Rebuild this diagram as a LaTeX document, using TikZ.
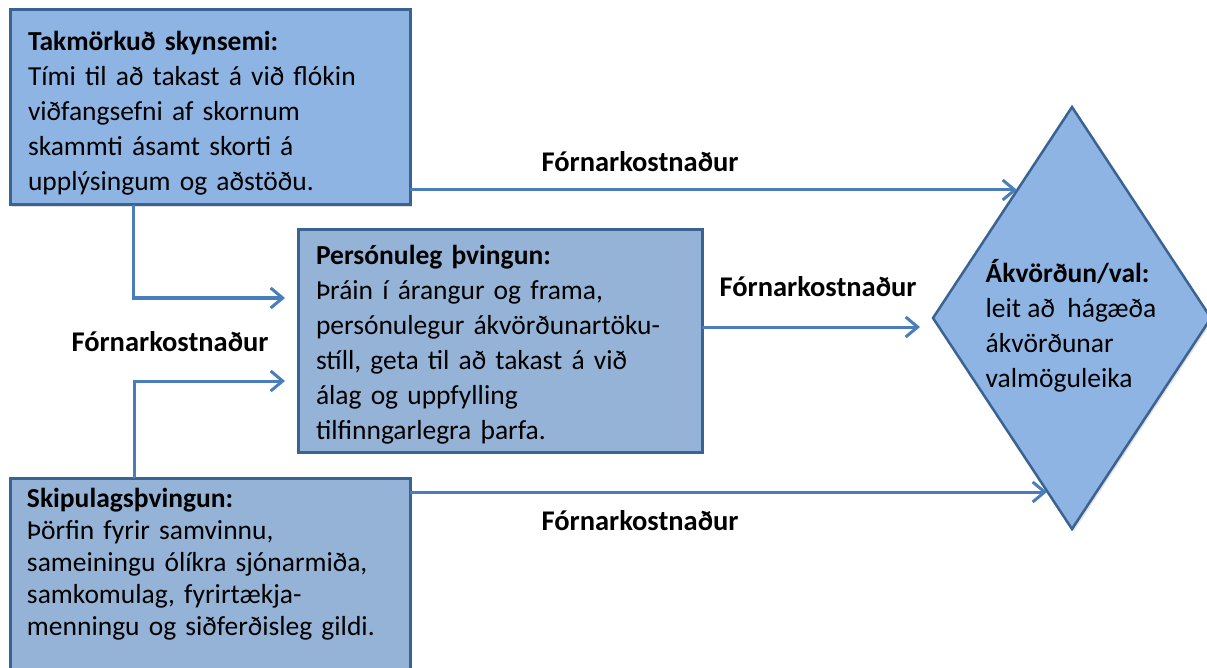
\documentclass[tikz,border=0pt]{standalone}
\usepackage{fontspec}
\setmainfont{Carlito}
\usetikzlibrary{shapes.geometric,arrows.meta,shadows}

\definecolor{boxfill}{HTML}{8EB4E3}
\definecolor{boxfillb}{HTML}{95B3D7}
\definecolor{boxline}{HTML}{3B6392}
\definecolor{flowline}{HTML}{4A7EBB}

\begin{document}
\begin{tikzpicture}[x=1pt,y=-1pt,>={Straight Barb[length=12pt,width=20pt]},
  box/.style={draw=boxline,line width=3pt,fill=#1,anchor=north west,align=left,
    inner xsep=18pt,inner ysep=0pt,outer sep=0pt,
    font=\fontsize{27.5}{35}\selectfont,
    drop shadow={opacity=0.25,shadow xshift=2pt,shadow yshift=-2pt}},
  flow/.style={draw=flowline,line width=3pt,->},
  lbl/.style={font=\bfseries\fontsize{28.5}{32}\selectfont,inner sep=0pt}]

  \useasboundingbox (0,0) rectangle (1207,668);
  \clip (0,0) rectangle (1207,668);

  % the three constraints
  \node[box=boxfill,text width=364pt,text height=30pt,minimum height=195pt] (bounded) at (10,10)
    {\textbf{Takmörkuð skynsemi:}\\Tími til að takast á við flókin\\viðfangsefni af skornum\\skammti ásamt skorti á\\upplýsingum og aðstöðu.};
  \node[box=boxfillb,text width=368pt,text height=27pt,minimum height=222pt] (personal) at (298,230)
    {\textbf{Persónuleg þvingun:}\\Þráin í árangur og frama,\\persónulegur ákvörðunartöku-\\stíll, geta til að takast á við\\álag og uppfylling\\tilfinngarlegra þarfa.};
  \node[box=boxfillb,text width=366pt,inner xsep=17pt,inner ysep=10pt,text depth=180pt,
    font=\fontsize{27.5}{32}\selectfont] (organis) at (10,478)
    {\textbf{Skipulagsþvingun:}\\Þörfin fyrir samvinnu,\\sameiningu ólíkra sjónarmiða,\\samkomulag, fyrirtækja-\\menningu og siðferðisleg gildi.};

  % the decision
  \node[diamond,draw=boxline,line width=2.5pt,fill=boxfill,outer sep=0pt,inner sep=0pt,
    minimum width=278pt,minimum height=422pt,
    drop shadow={opacity=0.25,shadow xshift=2pt,shadow yshift=-2pt}] (decision) at (1072,318) {};
  \node[align=left,inner sep=0pt,font=\fontsize{27.5}{35}\selectfont] (decisiontxt)
    at ([xshift=-1pt,yshift=-8pt]decision.center)
    {\textbf{Ákvörðun/val:}\\leit að\ \ hágæða\\ákvörðunar\\valmöguleika};

  \draw[flow,shorten >=55pt] ([yshift=15pt]bounded.south east) -- ([yshift=15pt]bounded.south east -| decision.north);
  \draw[flow,shorten >=13pt] ([yshift=14pt]personal.east) -- ([yshift=14pt]personal.east -| decision.west);
  \draw[flow,shorten >=25pt] ([yshift=-14pt]organis.north east) -- ([yshift=-14pt]organis.north east -| decision.south);
  \draw[flow,shorten >=13pt] ([xshift=123pt]bounded.south west) |- ([yshift=43pt]personal.west);
  \draw[flow,shorten >=13pt] ([xshift=124pt]organis.north west) |- ([yshift=-40pt]personal.west);

  \node[lbl] (costa) at (640,162) {Fórnarkostnaður};
  \node[lbl] (costb) at (818,287) {Fórnarkostnaður};
  \node[lbl] (costc) at (170,342) {Fórnarkostnaður};
  \node[lbl] (costd) at (640,521) {Fórnarkostnaður};

\end{tikzpicture}
\end{document}
